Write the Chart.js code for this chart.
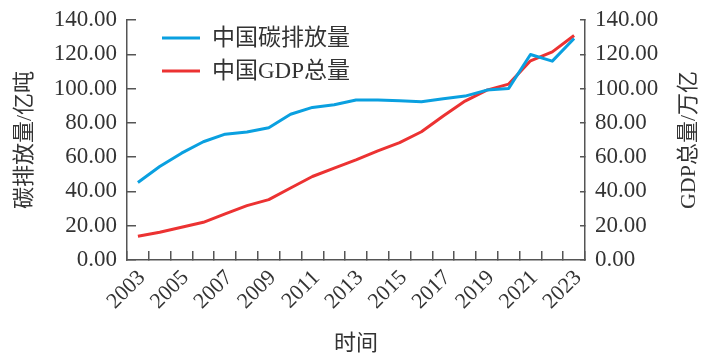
<!DOCTYPE html>
<html>
<head>
<meta charset="utf-8">
<script src="https://cdn.jsdelivr.net/npm/chart.js@4.4.1/dist/chart.umd.min.js"></script>
<style>
html,body{margin:0;padding:0;background:#fff;}
#wrap{width:705px;height:357px;position:relative;}
</style>
</head>
<body>
<div id="wrap"><canvas id="c" width="705" height="357"></canvas></div>
<script>
const years = ['2003','2004','2005','2006','2007','2008','2009','2010','2011','2012','2013','2014','2015','2016','2017','2018','2019','2020','2021','2022','2023'];
const carbonEmissions = [45.2, 54.5, 62.3, 69.0, 73.4, 74.7, 77.2, 85.0, 89.0, 90.6, 93.3, 93.3, 92.9, 92.3, 94.1, 95.6, 99.1, 100.1, 119.9, 116.0, 129.2];
const gdpTotal = [13.8, 16.2, 19.1, 22.0, 26.9, 31.7, 35.2, 42.0, 48.7, 53.6, 58.4, 63.7, 68.5, 74.8, 84.0, 92.7, 99.1, 102.6, 116.2, 121.4, 131.0];
const seriesNames = ['中国碳排放量', '中国GDP总量'];
const yTicks = [0, 20, 40, 60, 80, 100, 120, 140];
const leftTitle = '碳排放量/亿吨';
const rightTitle = 'GDP总量/万亿';
const xTitle = '时间';

const FONT = "'Liberation Serif', 'Noto Sans CJK SC', serif";
const TXT = '#333333';
const AX = '#555555';

const legendPlugin = {
  id: 'innerLegend',
  afterDraw(chart) {
    const ctx = chart.ctx;
    const a = chart.chartArea;
    ctx.save();
    ctx.font = '23px ' + FONT;
    ctx.textBaseline = 'middle';
    chart.data.datasets.forEach((ds, i) => {
      const y = a.top + 18 + i * 33;
      const x = a.left + 35;
      ctx.strokeStyle = ds.borderColor;
      ctx.lineWidth = 3;
      ctx.beginPath();
      ctx.moveTo(x, y);
      ctx.lineTo(x + 38, y);
      ctx.stroke();
      ctx.fillStyle = TXT;
      ctx.fillText(ds.label, x + 50, y + 1);
    });
    // right axis title, reading bottom-to-top like the left one
    const r = chart.scales.y1;
    ctx.translate(r.right - 16, (a.top + a.bottom) / 2);
    ctx.rotate(-Math.PI / 2);
    ctx.font = '22px ' + FONT;
    ctx.textAlign = 'center';
    ctx.textBaseline = 'middle';
    ctx.fillText(rightTitle, 0, 0);
    ctx.restore();
  }
};

function fixV(w) {
  return function(s) { s.width = w; s.paddingTop = 0; s.paddingBottom = 0; };
}

new Chart(document.getElementById('c'), {
  type: 'line',
  data: {
    labels: years,
    datasets: [
      { label: seriesNames[0], data: carbonEmissions, yAxisID: 'y', borderColor: '#0aa0e0', backgroundColor: '#0aa0e0', borderWidth: 3, pointRadius: 0, tension: 0, borderJoinStyle: 'round' },
      { label: seriesNames[1], data: gdpTotal, yAxisID: 'y1', borderColor: '#ec3232', backgroundColor: '#ec3232', borderWidth: 3, pointRadius: 0, tension: 0, borderJoinStyle: 'round' }
    ]
  },
  options: {
    responsive: false,
    animation: false,
    layout: { padding: { top: 20, left: 0, right: 0, bottom: 0 } },
    plugins: { legend: { display: false }, tooltip: { enabled: false } },
    scales: {
      x: {
        offset: true,
        grid: { offset: true, drawOnChartArea: false, drawTicks: true, tickLength: -9, color: AX, lineWidth: 1.5 },
        border: { display: true, color: AX, width: 1.5 },
        ticks: {
          autoSkip: false, maxRotation: 45, minRotation: 45, padding: 14, labelOffset: 4,
          color: TXT, font: { family: FONT, size: 22 },
          callback: function(v, i) { return i % 2 === 0 ? years[i] : ''; }
        },
        title: { display: true, text: xTitle, color: TXT, font: { family: FONT, size: 22 }, padding: { top: 0, bottom: 0 } },
        afterFit(s) { s.height = 97; s.paddingLeft = 0; s.paddingRight = 0; }
      },
      y: {
        position: 'left', min: 0, max: 140,
        afterBuildTicks(s) { s.ticks = yTicks.map(v => ({ value: v })); },
        grid: { drawOnChartArea: false, drawTicks: true, tickLength: -9, color: AX, lineWidth: 1.5 },
        border: { display: true, color: AX, width: 1.5 },
        ticks: { padding: 19, color: TXT, font: { family: FONT, size: 23 }, callback: v => v.toFixed(2) },
        title: { display: true, text: leftTitle, color: TXT, font: { family: FONT, size: 22 }, padding: { top: 12, bottom: 0 } },
        afterFit: fixV(127)
      },
      y1: {
        position: 'right', min: 0, max: 140,
        afterBuildTicks(s) { s.ticks = yTicks.map(v => ({ value: v })); },
        grid: { drawOnChartArea: false, drawTicks: true, tickLength: -5, color: AX, lineWidth: 1.5 },
        border: { display: true, color: AX, width: 1.5 },
        ticks: { padding: 15, color: TXT, font: { family: FONT, size: 23 }, callback: v => v.toFixed(2) },
        title: { display: false, text: rightTitle },
        afterFit: fixV(120)
      }
    }
  },
  plugins: [legendPlugin]
});
</script>
</body>
</html>
